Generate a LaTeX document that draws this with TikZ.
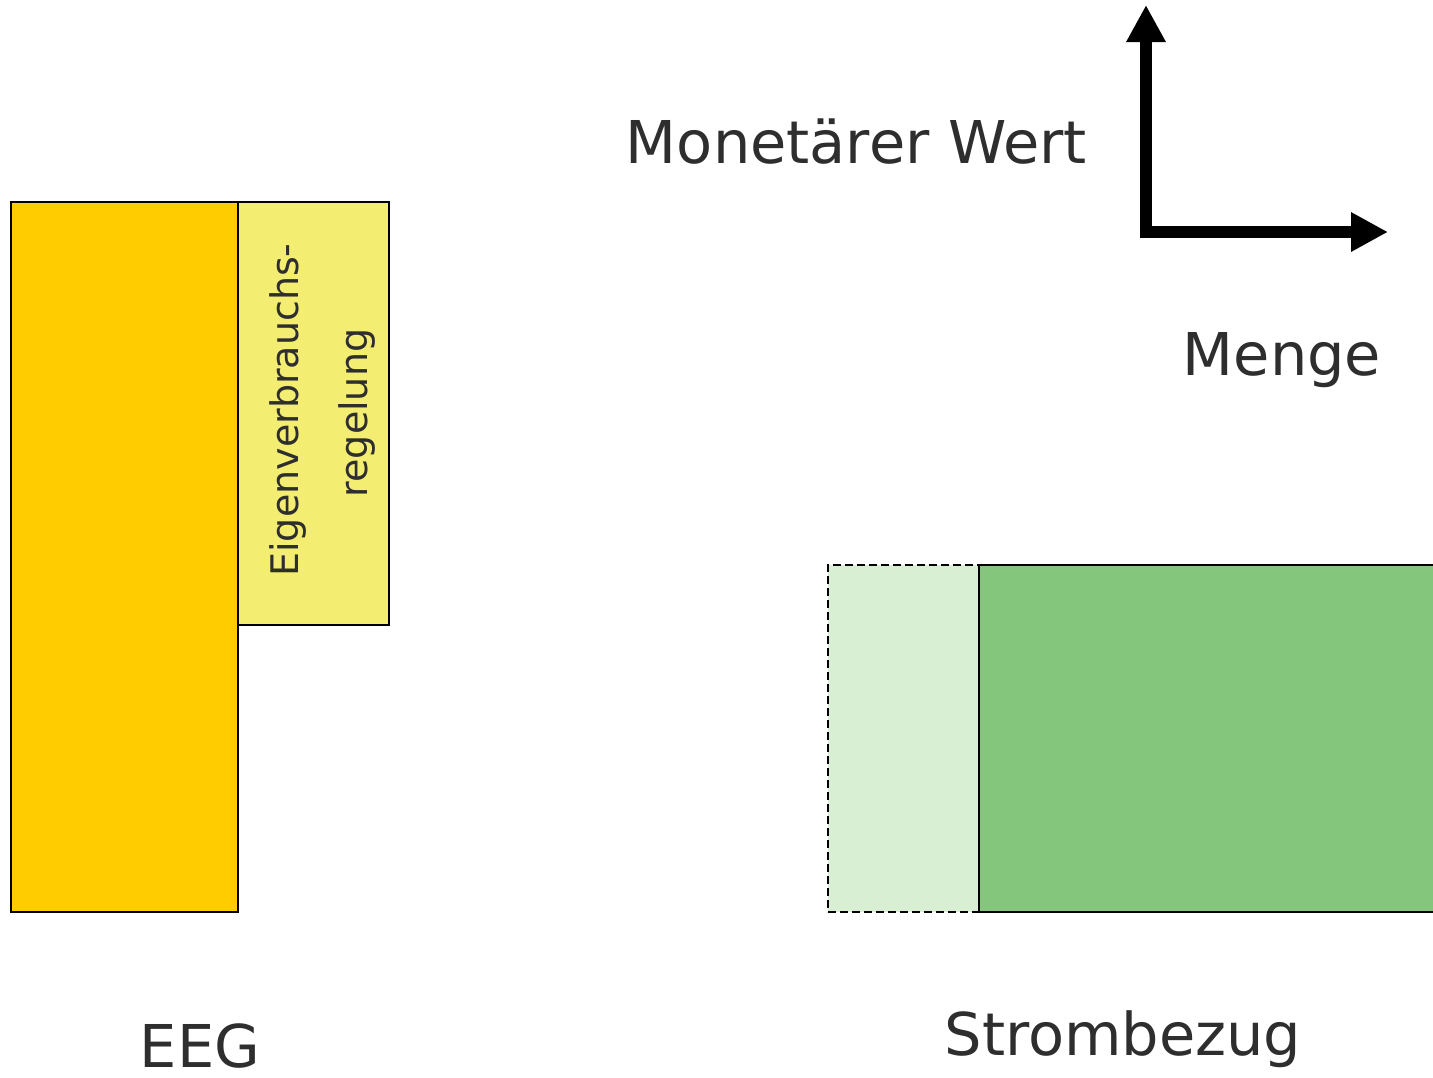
\documentclass[tikz,border=0pt]{standalone}
\usepackage{fontspec}
\setmainfont{DejaVu Sans}
\usetikzlibrary{arrows.meta}
\definecolor{eegorange}{HTML}{FFCC00}
\definecolor{eigyellow}{HTML}{F3ED72}
\definecolor{stromgreen}{HTML}{84C67C}
\definecolor{palegreen}{HTML}{D8EFD4}
\definecolor{textgray}{HTML}{2E2E2E}
\begin{document}
\begin{tikzpicture}[x=1pt,y=-1pt,
  bar/.style={draw=black,line width=1.5pt,inner sep=0pt,outer sep=0pt,anchor=north west},
  lbl/.style={text=textgray,inner sep=0pt,font=\fontsize{59}{68}\selectfont},
  vlbl/.style={lbl,rotate=90,font=\fontsize{38}{44}\selectfont},
  axis/.style={line width=12pt,-{Triangle[width=37pt,length=37pt]}}]
  \useasboundingbox (0,0) rectangle (1433,1077);
  % bars
  \node[bar,fill=eegorange,minimum width=227pt,minimum height=710pt] (eeg) at (11,202) {};
  \node[bar,fill=eigyellow,minimum width=151pt,minimum height=423pt] (eig) at (238,202) {};
  \node[bar,fill=palegreen,dashed,dash pattern=on 8pt off 4pt,minimum width=151pt,minimum height=347pt] (pale) at (828,565) {};
  \node[bar,fill=stromgreen,minimum width=460pt,minimum height=347pt] (strom) at (979,565) {};
  % rotated label inside the yellow bar
  \node[vlbl] (eigA) at (288,410) {Eigenverbrauchs-};
  \node[vlbl] (eigB) at (357,413) {regelung};
  % axes
  \coordinate (o) at (1146,232);
  \coordinate (o2) at (1140,232);
  \coordinate (ytip) at (1146,5);
  \coordinate (xtip) at (1388,232);
  \draw[axis] (o) -- (ytip);
  \draw[axis] (o2) -- (xtip);
  % labels
  \node[lbl,anchor=base east] (wert) at (1087,163) {Monetärer Wert};
  \node[lbl,anchor=base] (menge) at (1282,375) {Menge};
  \node[lbl,anchor=base] (eeglbl) at (200,1067) {EEG};
  \node[lbl,anchor=base] (stromlbl) at (1123,1055) {Strombezug};
\end{tikzpicture}
\end{document}
